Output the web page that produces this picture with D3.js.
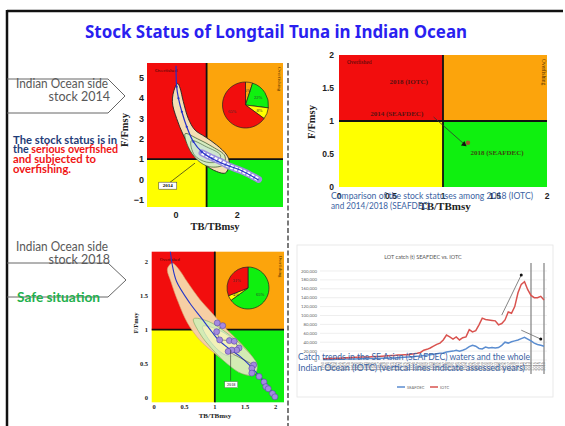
<!DOCTYPE html>
<html>
<head>
<meta charset="utf-8">
<script src="https://cdn.jsdelivr.net/npm/d3@7/dist/d3.min.js"></script>
<style>
  body { margin: 0; background: #fff; }
  svg { display: block; }
</style>
</head>
<body>
<svg id="slide" width="565" height="426"></svg>
<script>
/**
 * LONGTAIL TUNA STOCK STATUS SLIDE
 */

// ---- data ----
const slideTitle = "Stock Status of Longtail Tuna in Indian Ocean";

// 2014 kobe plot (left, top)
const k14YTicks = [-1, 0, 1, 2, 3, 4, 5];
const k14XTicks = [0, 2];
const traj14 = [[0, 5.6], [0.02, 4.56], [0.08, 3.99], [0.19, 3.33], [0.35, 2.59], [0.57, 1.85], [0.84, 1.36], [1.17, 1.03], [1.66, 0.70], [2.10, 0.46], [2.70, -0.03]];
const tail14 = [[0.85, 1.3], [1.05, 1.15], [1.2, 1.05], [1.35, 0.95], [1.5, 0.85], [1.65, 0.72], [1.8, 0.62], [1.95, 0.53], [2.1, 0.45], [2.25, 0.35], [2.4, 0.24], [2.55, 0.12], [2.7, 0.0]];
const band14 = [[0.06, 4.72], [0.13, 4.5], [0.24, 3.82], [0.40, 3.0], [0.62, 2.43], [0.95, 2.1], [1.33, 1.69], [1.66, 1.2], [1.74, 0.85], [1.62, 0.32], [1.22, 0.46], [0.84, 0.87], [0.51, 1.44], [0.24, 2.18], [0.02, 3.0], [-0.12, 3.82], [-0.04, 4.5]];
const inner14 = [[0.3, 2.25], [0.7, 2.0], [1.2, 1.6], [1.6, 1.15], [1.55, 0.72], [1.1, 0.62], [0.7, 0.95], [0.4, 1.6]];
const core14 = [[0.5, 1.9], [1.0, 1.6], [1.45, 1.2], [1.4, 0.9], [1.0, 0.85], [0.6, 1.2]];
const pie14Values = [5, 22, 8, 65];
const pie14Labels = ["5%", "22%", "8%", "65%"];
const pie14Status = ["overfishing", "healthy", "recovering", "overfished"];

// 2018 kobe plot (left, bottom)
const k18Ticks = [0, 0.5, 1, 1.5, 2];
const traj18 = [[0.25, 2.3], [0.30, 1.95], [0.37, 1.71], [0.59, 1.39], [0.78, 1.17], [0.95, 0.97], [1.06, 0.85], [1.22, 0.73], [1.41, 0.61], [1.58, 0.47], [1.72, 0.33], [1.88, 0.16], [1.99, 0.01]];
const pts18 = [[1.04, 1.10], [1.13, 1.06], [1.03, 0.97], [1.08, 0.85], [1.24, 0.84], [1.32, 0.83], [1.40, 0.73], [1.36, 0.70], [1.28, 0.70], [1.22, 0.68], [1.64, 0.48], [1.61, 0.43], [1.61, 0.36], [1.73, 0.31], [1.81, 0.23], [1.84, 0.16], [1.88, 0.13], [1.95, 0.06], [1.99, 0.01]];
const band18 = [[0.22, 1.9], [0.3, 1.98], [0.4, 1.9], [0.55, 1.7], [0.75, 1.45], [0.95, 1.25], [1.2, 1.0], [1.45, 0.78], [1.65, 0.55], [1.68, 0.4], [1.55, 0.33], [1.3, 0.45], [1.0, 0.65], [0.75, 0.85], [0.55, 1.1], [0.4, 1.4], [0.28, 1.7]];
const green18 = [[0.65, 1.16], [0.9, 1.12], [1.2, 0.95], [1.5, 0.72], [1.7, 0.48], [1.65, 0.34], [1.45, 0.35], [1.2, 0.5], [0.95, 0.72], [0.75, 0.95]];
const inner18 = [[0.8, 1.05], [1.1, 0.98], [1.35, 0.8], [1.4, 0.65], [1.2, 0.62], [0.95, 0.8]];
const pie18Values = [65, 4, 31];
const pie18Labels = ["65%", "4%", "31%"];
const pie18Status = ["healthy", "recovering", "overfished"];

// comparison kobe plot (right, top)
const cmpTicks = [0, 0.5, 1, 1.5, 2];
const cmpNames = ["2018 (IOTC)", "2014 (SEAFDEC)", "2018 (SEAFDEC)"];
const cmpX = [0.70, 0.90, 1.24];
const cmpY = [1.50, 1.06, 0.67];

// catch trends (right, bottom)
const years = [1950, 1951, 1952, 1953, 1954, 1955, 1956, 1957, 1958, 1959, 1960, 1961, 1962, 1963, 1964, 1965, 1966, 1967, 1968, 1969,
  1970, 1971, 1972, 1973, 1974, 1975, 1976, 1977, 1978, 1979, 1980, 1981, 1982, 1983, 1984, 1985, 1986, 1987, 1988, 1989,
  1990, 1991, 1992, 1993, 1994, 1995, 1996, 1997, 1998, 1999, 2000, 2001, 2002, 2003, 2004, 2005, 2006, 2007, 2008, 2009,
  2010, 2011, 2012, 2013, 2014, 2015, 2016, 2017, 2018];
const iotcCatch = [3000, 3000, 3500, 3500, 4000, 4000, 4500, 5000, 5000, 5500, 6000, 6000, 6500, 7000, 7000, 7500, 8000, 8000, 8500, 9000,
  9500, 10000, 10000, 11000, 11000, 12000, 12000, 13000, 14000, 15000, 17000, 22000, 24000, 27000, 31000, 35000, 38000, 45000, 56000, 52000,
  47000, 52000, 45000, 50000, 52000, 68000, 63000, 66000, 79000, 94000, 91000, 90000, 89000, 88000, 79000, 82000, 90000, 108000, 105000, 120000,
  151000, 170000, 176000, 158000, 145000, 140000, 140000, 143000, 135000];
const seafdecCatch = [1000, 1000, 1200, 1300, 1500, 1600, 1800, 2000, 2100, 2300, 2500, 2600, 2800, 3000, 3100, 3300, 3500, 3600, 3800, 4000,
  4000, 4300, 4600, 5000, 5500, 6000, 6500, 7000, 8000, 8500, 9000, 10000, 11000, 12000, 13000, 14000, 15000, 16000, 18000, 19000,
  20000, 22000, 20000, 22000, 25000, 30000, 33000, 31000, 26000, 25000, 29000, 27000, 28000, 27000, 28000, 33000, 40000, 38000, 41000, 43000,
  45000, 48000, 51000, 47000, 43000, 38000, 35000, 33000, 31000];
const catchTicks = [0, 20000, 40000, 60000, 80000, 100000, 120000, 140000, 160000, 180000, 200000];
const assessedYears = [2014, 2018];
const trendArrows = [[[2005, 101000], [2011, 191000]], [[2011, 67000], [2017, 47000]]];

// ---- styles ----
const quadColor = { overfished: "#f20d0d", overfishing: "#fca40c", recovering: "#ffff00", healthy: "#0ff00f" };
const navy = "#1f3c78", capBlue = "#3b63a3", grey = "#595959";

const svg = d3.select("#slide");

// slide frame
svg.append("line").attr("x1", 7).attr("x2", 563).attr("y1", 11).attr("y2", 11).attr("stroke", "#111").attr("stroke-width", 2.5);
svg.append("line").attr("x1", 7).attr("x2", 7).attr("y1", 10).attr("y2", 426).attr("stroke", "#111").attr("stroke-width", 2.5);
svg.append("line").attr("x1", 288).attr("x2", 288).attr("y1", 63).attr("y2", 426)
  .attr("stroke", "#222").attr("stroke-width", 1.2).attr("stroke-dasharray", "5,2.5");

svg.append("text").attr("x", 85).attr("y", 38).attr("textLength", 382).attr("lengthAdjust", "spacingAndGlyphs")
  .attr("font-family", "Noto Sans").attr("font-weight", "bold").attr("font-size", 17).attr("fill", "#2a1ff0")
  .text(slideTitle);

// generic quadrant background
function quadrants(g, x, y) {
  const [x0, x1] = x.domain(), [y0, y1] = y.domain();
  const q = [[x0, 1, 1, y1, "overfished"], [1, x1, 1, y1, "overfishing"], [x0, 1, y0, 1, "recovering"], [1, x1, y0, 1, "healthy"]];
  g.selectAll("rect.q").data(q).enter().append("rect").attr("class", "q")
    .attr("x", d => x(d[0])).attr("width", d => x(d[1]) - x(d[0]))
    .attr("y", d => y(d[3])).attr("height", d => y(d[2]) - y(d[3]))
    .attr("fill", d => quadColor[d[4]]);
  g.append("line").attr("x1", x(1)).attr("x2", x(1)).attr("y1", y(y1)).attr("y2", y(y0)).attr("stroke", "#111").attr("stroke-width", 1.8);
  g.append("line").attr("x1", x(x0)).attr("x2", x(x1)).attr("y1", y(1)).attr("y2", y(1)).attr("stroke", "#111").attr("stroke-width", 1.8);
}

function cornerLabels(g, x, y, fs) {
  const [x0, x1] = x.domain(), [, y1] = y.domain();
  g.append("text").attr("x", x(x0) + 8).attr("y", y(y1) + 9).attr("font-family", "Liberation Serif")
    .attr("font-size", fs).attr("fill", "#3a0a0a").text("Overfished");
  g.append("text").attr("transform", `translate(${x(x1) - 5},${y(y1) + 4}) rotate(90)`).attr("font-family", "Liberation Serif")
    .attr("font-size", fs).attr("fill", "#4a2a00").text("Overfishing");
}

function drawPie(g, cx, cy, r, values, labels, status) {
  const arcs = d3.pie().sort(null)(values);
  const arc = d3.arc().innerRadius(0).outerRadius(r);
  const pg = g.append("g").attr("transform", `translate(${cx},${cy})`);
  pg.selectAll("path").data(arcs).enter().append("path").attr("d", arc)
    .attr("fill", (d, i) => quadColor[status[i]]).attr("stroke", "#222").attr("stroke-width", 0.7);
  const la = d3.arc().innerRadius(r * 0.55).outerRadius(r * 0.75);
  pg.selectAll("text").data(arcs).enter().append("text")
    .attr("transform", d => `translate(${la.centroid(d)})`).attr("text-anchor", "middle").attr("dy", "0.35em")
    .attr("font-family", "Liberation Serif").attr("font-size", 4.5).attr("fill", "#333")
    .text((d, i) => labels[i]);
}

const bandPath = (x, y) => d3.line().x(d => x(d[0])).y(d => y(d[1])).curve(d3.curveCatmullRomClosed);
const trajPath = (x, y) => d3.line().x(d => x(d[0])).y(d => y(d[1])).curve(d3.curveCatmullRom);

// ---------- 2014 kobe ----------
(function () {
  const x = d3.scaleLinear().domain([-0.95, 3.5]).range([147, 283]);
  const y = d3.scaleLinear().domain([-1.36, 5.73]).range([207, 63]);
  const g = svg.append("g");
  svg.append("clipPath").attr("id", "clip14").append("rect")
    .attr("x", x(-0.95)).attr("y", y(5.73)).attr("width", x(3.5) - x(-0.95)).attr("height", y(-1.36) - y(5.73));
  quadrants(g, x, y);
  cornerLabels(g, x, y, 5);
  drawPie(g, 245.5, 105, 23, pie14Values, pie14Labels, pie14Status);

  const c = g.append("g").attr("clip-path", "url(#clip14)");
  c.append("path").attr("d", bandPath(x, y)(band14)).attr("fill", "#f4dfb4").attr("stroke", "#222").attr("stroke-width", 0.9);
  c.append("path").attr("d", bandPath(x, y)(inner14)).attr("fill", "#d6ecc0").attr("stroke", "#2e4a22").attr("stroke-width", 0.7);
  c.append("path").attr("d", bandPath(x, y)(core14)).attr("fill", "#cfe6cf").attr("stroke", "#3a5a30").attr("stroke-width", 0.6);
  c.append("path").attr("d", trajPath(x, y)(tail14)).attr("fill", "none").attr("stroke", "#9c8fe0").attr("stroke-width", 7).attr("stroke-linecap", "round");
  c.append("path").attr("d", trajPath(x, y)(tail14)).attr("fill", "none").attr("stroke", "#fff").attr("stroke-width", 4).attr("stroke-dasharray", "3,1.5");
  c.append("path").attr("d", trajPath(x, y)(traj14)).attr("fill", "none").attr("stroke", "#2430c8").attr("stroke-width", 1.2);
  c.selectAll("circle").data(traj14.slice(1, 8)).enter().append("circle")
    .attr("cx", d => x(d[0])).attr("cy", d => y(d[1])).attr("r", 1.1).attr("fill", "#2430c8");

  // 2014 label
  g.append("line").attr("x1", x(-0.2)).attr("y1", y(-0.15)).attr("x2", x(0.62)).attr("y2", y(0.8)).attr("stroke", "#222").attr("stroke-width", 0.7);
  g.append("rect").attr("x", x(-0.27) - 9).attr("y", y(-0.31) - 3.5).attr("width", 18).attr("height", 7).attr("fill", "#fff").attr("stroke", "#333").attr("stroke-width", 0.5);
  g.append("text").attr("x", x(-0.27)).attr("y", y(-0.31) + 1.8).attr("text-anchor", "middle")
    .attr("font-family", "Liberation Serif").attr("font-weight", "bold").attr("font-size", 5).text("2014");

  g.selectAll("text.yt").data(k14YTicks).enter().append("text").attr("class", "yt")
    .attr("x", 144).attr("y", d => y(d) + 3.2).attr("text-anchor", "end")
    .attr("font-family", "Liberation Sans").attr("font-weight", "bold").attr("font-size", 9).attr("fill", "#222")
    .text(d => d < 0 ? "\u2212" + Math.abs(d) : d);
  g.selectAll("text.xt").data(k14XTicks).enter().append("text").attr("class", "xt")
    .attr("x", d => x(d)).attr("y", 218).attr("text-anchor", "middle")
    .attr("font-family", "Liberation Sans").attr("font-weight", "bold").attr("font-size", 9).attr("fill", "#222").text(d => d);
  g.append("text").attr("x", 215).attr("y", 230).attr("text-anchor", "middle")
    .attr("font-family", "Liberation Serif").attr("font-weight", "bold").attr("font-size", 10.5).attr("fill", "#222").text("TB/TBmsy");
  g.append("text").attr("transform", "translate(128,130) rotate(-90)").attr("text-anchor", "middle")
    .attr("font-family", "Liberation Serif").attr("font-weight", "bold").attr("font-size", 10.5).attr("fill", "#222").text("F/Fmsy");
})();

// ---------- 2018 kobe ----------
(function () {
  const x = d3.scaleLinear().domain([-0.04, 2.14]).range([151.7, 284]);
  const y = d3.scaleLinear().domain([-0.07, 2.15]).range([402.3, 251.7]);
  const g = svg.append("g");
  svg.append("clipPath").attr("id", "clip18").append("rect")
    .attr("x", x(-0.04)).attr("y", y(2.15)).attr("width", x(2.14) - x(-0.04)).attr("height", y(-0.07) - y(2.15));
  quadrants(g, x, y);
  cornerLabels(g, x, y, 4.5);
  drawPie(g, 248, 288, 21, pie18Values, pie18Labels, pie18Status);

  const c = g.append("g").attr("clip-path", "url(#clip18)");
  c.append("path").attr("d", bandPath(x, y)(band18)).attr("fill", "#f6cfa4").attr("stroke", "#d9a36e").attr("stroke-width", 0.6);
  c.append("path").attr("d", bandPath(x, y)(green18)).attr("fill", "#d4ebb4").attr("stroke", "#7aa860").attr("stroke-width", 0.6);
  c.append("path").attr("d", bandPath(x, y)(inner18)).attr("fill", "#f2f1b8").attr("stroke", "#9ec5b0").attr("stroke-width", 0.5);
  c.append("path").attr("d", trajPath(x, y)(traj18)).attr("fill", "none").attr("stroke", "#2536c8").attr("stroke-width", 1.1);
  c.append("path").attr("d", d3.line().x(d => x(d[0])).y(d => y(d[1]))(pts18)).attr("fill", "none").attr("stroke", "#333").attr("stroke-width", 0.5);
  c.selectAll("circle").data(pts18).enter().append("circle")
    .attr("cx", d => x(d[0])).attr("cy", d => y(d[1])).attr("r", 3)
    .attr("fill", "#a48ae0").attr("stroke", "#5a46a8").attr("stroke-width", 0.6);

  g.append("line").attr("x1", x(1.26)).attr("y1", y(0.25)).attr("x2", x(1.26)).attr("y2", y(0.7)).attr("stroke", "#333").attr("stroke-width", 0.6);
  g.append("rect").attr("x", x(1.27) - 6.5).attr("y", y(0.19) - 3).attr("width", 13).attr("height", 6).attr("fill", "#fff").attr("stroke", "#555").attr("stroke-width", 0.4);
  g.append("text").attr("x", x(1.27)).attr("y", y(0.19) + 1.6).attr("text-anchor", "middle")
    .attr("font-family", "Liberation Serif").attr("font-size", 4.2).text("2018");

  g.selectAll("text.yt").data(k18Ticks).enter().append("text").attr("class", "yt")
    .attr("x", 148).attr("y", d => y(d) + 2.2).attr("text-anchor", "end")
    .attr("font-family", "Liberation Serif").attr("font-weight", "bold").attr("font-size", 6.5).attr("fill", "#222").text(d => d);
  g.selectAll("text.xt").data(k18Ticks).enter().append("text").attr("class", "xt")
    .attr("x", d => x(d)).attr("y", 409).attr("text-anchor", "middle")
    .attr("font-family", "Liberation Serif").attr("font-weight", "bold").attr("font-size", 6.5).attr("fill", "#222").text(d => d);
  g.append("text").attr("x", 215).attr("y", 418).attr("text-anchor", "middle")
    .attr("font-family", "Liberation Serif").attr("font-weight", "bold").attr("font-size", 7).attr("fill", "#222").text("TB/TBmsy");
  g.append("text").attr("transform", "translate(138,323) rotate(-90)").attr("text-anchor", "middle")
    .attr("font-family", "Liberation Serif").attr("font-weight", "bold").attr("font-size", 6.5).attr("fill", "#222").text("F/Fmsy");
})();

// ---------- comparison kobe ----------
(function () {
  const x = d3.scaleLinear().domain([0, 2]).range([339, 547]);
  const y = d3.scaleLinear().domain([0, 2]).range([187, 55]);
  const g = svg.append("g");
  quadrants(g, x, y);
  cornerLabels(g, x, y, 5.5);

  g.append("line").attr("x1", x(cmpX[1]) + 1).attr("y1", y(cmpY[1])).attr("x2", x(cmpX[2]) - 3).attr("y2", y(cmpY[2]) + 2)
    .attr("stroke", "#333").attr("stroke-width", 0.8);
  g.append("path").attr("d", d3.symbol(d3.symbolTriangle, 14)())
    .attr("transform", `translate(${x(cmpX[2]) - 4},${y(cmpY[2]) + 1.5}) rotate(128)`).attr("fill", "#111");
  g.append("circle").attr("cx", x(cmpX[2])).attr("cy", y(cmpY[2])).attr("r", 2.2).attr("fill", "#a0522d");
  g.append("circle").attr("cx", x(cmpX[0])).attr("cy", y(cmpY[0])).attr("r", 1).attr("fill", "#b03030");

  const lab = [[cmpX[0] - 0.03, cmpY[0] + 0.06, "middle", "#5a1212"], [cmpX[1] - 0.09, cmpY[1] + 0.02, "end", "#5a1212"], [cmpX[2] + 0.28, cmpY[2] - 0.19, "middle", "#3d4a10"]];
  g.selectAll("text.pl").data(cmpNames).enter().append("text").attr("class", "pl")
    .attr("x", (d, i) => x(lab[i][0])).attr("y", (d, i) => y(lab[i][1]))
    .attr("text-anchor", (d, i) => lab[i][2]).attr("font-family", "Liberation Serif").attr("font-weight", "bold")
    .attr("font-size", 7).attr("fill", (d, i) => lab[i][3]).text(d => d);

  g.selectAll("text.yt").data(cmpTicks).enter().append("text").attr("class", "yt")
    .attr("x", 334).attr("y", d => y(d) + 3).attr("text-anchor", "end")
    .attr("font-family", "Liberation Sans").attr("font-weight", "bold").attr("font-size", 8.5).attr("fill", "#222").text(d => d);
  g.selectAll("text.xt").data(cmpTicks).enter().append("text").attr("class", "xt")
    .attr("x", d => x(d)).attr("y", 199).attr("text-anchor", "middle")
    .attr("font-family", "Liberation Sans").attr("font-weight", "bold").attr("font-size", 8.5).attr("fill", "#222").text(d => d);
  g.append("text").attr("x", 445).attr("y", 210).attr("text-anchor", "middle")
    .attr("font-family", "Liberation Serif").attr("font-weight", "bold").attr("font-size", 11).attr("fill", "#222").text("TB/TBmsy");
  g.append("text").attr("transform", "translate(315,122) rotate(-90)").attr("text-anchor", "middle")
    .attr("font-family", "Liberation Serif").attr("font-weight", "bold").attr("font-size", 10.5).attr("fill", "#222").text("F/Fmsy");

  const cap = ["Comparison of the stock statuses among 2018 (IOTC)", "and 2014/2018 (SEAFDEC)"];
  const capW = [202, 99];
  g.selectAll("text.cap").data(cap).enter().append("text").attr("class", "cap")
    .attr("x", 331).attr("y", (d, i) => 199 + i * 10).attr("textLength", (d, i) => capW[i]).attr("lengthAdjust", "spacingAndGlyphs")
    .attr("font-family", "Lato").attr("font-size", 10).attr("fill", capBlue).text(d => d);
})();

// ---------- catch trends ----------
(function () {
  const x = d3.scaleLinear().domain([1950, 2018]).range([323, 544]);
  const y = d3.scaleLinear().domain([0, 200000]).range([360, 271]);
  const g = svg.append("g");
  g.append("rect").attr("x", 297).attr("y", 245).attr("width", 256).attr("height", 152).attr("fill", "#fff").attr("stroke", "#e4e4e4").attr("stroke-width", 0.8);
  g.append("text").attr("x", 423).attr("y", 259).attr("text-anchor", "middle")
    .attr("font-family", "Lato").attr("font-size", 5.5).attr("fill", "#555").text("LOT catch (t) SEAFDEC vs. IOTC");

  g.selectAll("line.grid").data(catchTicks).enter().append("line").attr("class", "grid")
    .attr("x1", 320).attr("x2", 547).attr("y1", d => y(d)).attr("y2", d => y(d))
    .attr("stroke", "#e2e2e2").attr("stroke-width", 0.6);
  g.selectAll("text.yt").data(catchTicks).enter().append("text").attr("class", "yt")
    .attr("x", 317).attr("y", d => y(d) + 1.5).attr("text-anchor", "end")
    .attr("font-family", "Lato").attr("font-size", 4.3).attr("fill", "#666").text(d3.format(","));
  g.selectAll("text.xt").data(years).enter().append("text").attr("class", "xt")
    .attr("transform", d => `translate(${x(d) + 1.4},362) rotate(-90)`).attr("text-anchor", "end")
    .attr("font-family", "Lato").attr("font-size", 3.8).attr("fill", "#777").text(d => d);

  g.selectAll("line.ay").data(assessedYears).enter().append("line").attr("class", "ay")
    .attr("x1", d => x(d)).attr("x2", d => x(d)).attr("y1", 263).attr("y2", 374)
    .attr("stroke", "#8a8a8a").attr("stroke-width", 1.3);

  const line = d3.line().x((d, i) => x(years[i])).y(d => y(d));
  g.append("path").attr("d", line(seafdecCatch)).attr("fill", "none").attr("stroke", "#5b8dd0").attr("stroke-width", 1.5);
  g.append("path").attr("d", line(iotcCatch)).attr("fill", "none").attr("stroke", "#d9534f").attr("stroke-width", 1.5);

  g.selectAll("line.ar").data(trendArrows).enter().append("line").attr("class", "ar")
    .attr("x1", d => x(d[0][0])).attr("y1", d => y(d[0][1])).attr("x2", d => x(d[1][0])).attr("y2", d => y(d[1][1]))
    .attr("stroke", "#777").attr("stroke-width", 0.9);
  g.selectAll("circle.ar").data(trendArrows).enter().append("circle").attr("class", "ar")
    .attr("cx", d => x(d[1][0])).attr("cy", d => y(d[1][1])).attr("r", 1.5).attr("fill", "#111");

  // legend
  const leg = [["SEAFDEC", "#5b8dd0", 397], ["IOTC", "#d9534f", 430]];
  leg.forEach(l => {
    g.append("line").attr("x1", l[2]).attr("x2", l[2] + 8).attr("y1", 387).attr("y2", 387).attr("stroke", l[1]).attr("stroke-width", 1.5);
    g.append("text").attr("x", l[2] + 10).attr("y", 388.5).attr("font-family", "Lato").attr("font-size", 4).attr("fill", "#666").text(l[0]);
  });

  const cap = ["Catch trends in the SE Asian (SEAFDEC) waters and the whole", "Indian Ocean (IOTC) (vertical lines indicate assessed years)"];
  const capW = [232, 227];
  g.selectAll("text.cap").data(cap).enter().append("text").attr("class", "cap")
    .attr("x", 298).attr("y", (d, i) => 360 + i * 11).attr("textLength", (d, i) => capW[i]).attr("lengthAdjust", "spacingAndGlyphs")
    .attr("font-family", "Lato").attr("font-size", 10).attr("fill", capBlue).text(d => d);
})();

// ---------- left side callouts ----------
function callout(top, bottom, tip) {
  const mid = (top + bottom) / 2;
  svg.append("path").attr("d", `M7,${top} L108,${top} L${tip},${mid} L108,${bottom} L7,${bottom}`)
    .attr("fill", "none").attr("stroke", "#666").attr("stroke-width", 1);
}
callout(79, 113, 125);
callout(263, 297, 126);

function sideLabel(y1, y2, year) {
  svg.append("text").attr("x", 16).attr("y", y1).attr("textLength", 92).attr("lengthAdjust", "spacingAndGlyphs")
    .attr("font-family", "Lato").attr("font-size", 12.5).attr("fill", grey).text("Indian Ocean side");
  svg.append("text").attr("x", 110).attr("y", y2).attr("text-anchor", "end")
    .attr("font-family", "Lato").attr("font-size", 12.5).attr("fill", grey).text("stock " + year);
}
sideLabel(88, 101, 2014);
sideLabel(251, 264, 2018);

const status14 = svg.append("g").attr("font-family", "Lato").attr("font-weight", "bold").attr("font-size", 11);
status14.append("text").attr("x", 13).attr("y", 144).attr("textLength", 104).attr("lengthAdjust", "spacingAndGlyphs")
  .attr("fill", navy).text("The stock status is in");
const l2 = status14.append("text").attr("x", 13).attr("y", 153).attr("textLength", 105).attr("lengthAdjust", "spacingAndGlyphs");
l2.append("tspan").attr("fill", navy).text("the ");
l2.append("tspan").attr("fill", "#f01515").text("serious overfished");
status14.append("text").attr("x", 13).attr("y", 163).attr("textLength", 83).attr("lengthAdjust", "spacingAndGlyphs")
  .attr("fill", "#f01515").text("and subjected to");
status14.append("text").attr("x", 13).attr("y", 173).attr("textLength", 58).attr("lengthAdjust", "spacingAndGlyphs")
  .attr("fill", "#f01515").text("overfishing.");

svg.append("text").attr("x", 17).attr("y", 301.5).attr("textLength", 83).attr("lengthAdjust", "spacingAndGlyphs")
  .attr("font-family", "Lato").attr("font-weight", "bold").attr("font-size", 13).attr("fill", "#22b04c").text("Safe situation");
</script>
</body>
</html>
